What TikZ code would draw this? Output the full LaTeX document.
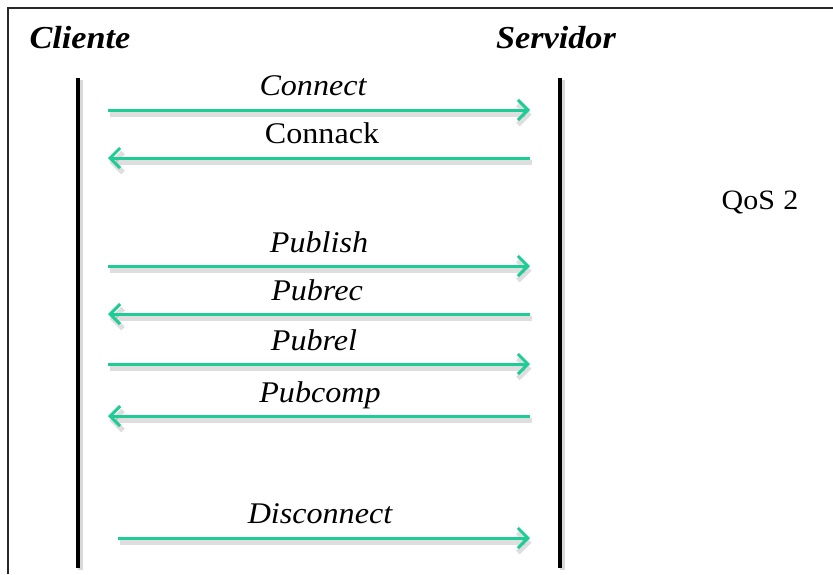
\documentclass[tikz,border=0pt]{standalone}
\usepackage{fontspec}
\setmainfont{Liberation Serif}[FakeStretch=1.07]
\usetikzlibrary{arrows.meta}
\definecolor{msggreen}{RGB}{30,204,150}
\definecolor{framegray}{RGB}{40,40,40}
\begin{document}
\begin{tikzpicture}[x=1pt,y=-1pt,
  party/.style={anchor=base,inner sep=0pt,font=\fontsize{32}{36}\selectfont\bfseries\itshape},
  msglabel/.style={anchor=base,inner sep=0pt,font=\fontsize{30}{34}\selectfont\itshape},
  msglabelup/.style={anchor=base,inner sep=0pt,font=\fontsize{30}{34}\selectfont},
  msgline/.style={draw=msggreen,line width=3pt,-{Straight Barb[length=10pt,width=20pt,line width=3pt]}},
  msgshade/.style={draw=black,opacity=0.13,line width=5pt,
    transform canvas={xshift=1.5pt,yshift=-4.5pt},
    -{Straight Barb[length=10pt,width=20pt,line width=5pt]}},
  lifeline/.style={draw=black,line width=4.5pt},
  lifeshade/.style={draw=black,opacity=0.15,line width=5pt,
    transform canvas={xshift=2pt,yshift=-2pt}},
]
\useasboundingbox (0,0) rectangle (833,574);
\fill[white] (0,0) rectangle (833,574);

% outer frame (open on the right and at the bottom)
\draw[framegray,line width=2.2pt] (8,574) -- (8,8) -- (833,8);

% participants
\node[party] (cli) at (80,48) {Cliente};
\node[party] (srv) at (556,48) {Servidor};
\node[anchor=base,inner sep=0pt,font=\fontsize{28}{32}\selectfont] (qos) at (760,209) {QoS\hspace{0.3em}2};

% lifelines
\coordinate (clitop) at (78,78);
\coordinate (clibot) at (78,568);
\coordinate (srvtop) at (560,78);
\coordinate (srvbot) at (560,568);
\draw[lifeshade] (clitop) -- (clibot);
\draw[lifeshade] (srvtop) -- (srvbot);
\draw[lifeline] (clitop) -- (clibot);
\draw[lifeline] (srvtop) -- (srvbot);

% message end points: l = client side, r = server side
\foreach \n/\y/\xl in {connect/110/108, connack/158/108, publish/266/108, pubrec/314/108,
                       pubrel/364/108, pubcomp/416/108, disc/538/118}{
  \coordinate (\n-l) at (\xl,\y);
  \coordinate (\n-r) at (530,\y);
}

% shadows of the messages
\draw[msgshade] (connect-l) -- (connect-r);
\draw[msgshade] (connack-r) -- (connack-l);
\draw[msgshade] (publish-l) -- (publish-r);
\draw[msgshade] (pubrec-r) -- (pubrec-l);
\draw[msgshade] (pubrel-l) -- (pubrel-r);
\draw[msgshade] (pubcomp-r) -- (pubcomp-l);
\draw[msgshade] (disc-l) -- (disc-r);

% messages
\draw[msgline] (connect-l) -- (connect-r);
\draw[msgline] (connack-r) -- (connack-l);
\draw[msgline] (publish-l) -- (publish-r);
\draw[msgline] (pubrec-r) -- (pubrec-l);
\draw[msgline] (pubrel-l) -- (pubrel-r);
\draw[msgline] (pubcomp-r) -- (pubcomp-l);
\draw[msgline] (disc-l) -- (disc-r);

% message labels
\node[msglabel]   (lconnect) at (313,95)  {Connect};
\node[msglabelup] (lconnack) at (322,143) {Connack};
\node[msglabel]   (lpublish) at (319,252) {Publish};
\node[msglabel]   (lpubrec)  at (317,300) {Pubrec};
\node[msglabel]   (lpubrel)  at (314,350) {Pubrel};
\node[msglabel]   (lpubcomp) at (320,402) {Pubcomp};
\node[msglabel]   (ldisc)    at (320,523) {Disconnect};
\end{tikzpicture}
\end{document}
